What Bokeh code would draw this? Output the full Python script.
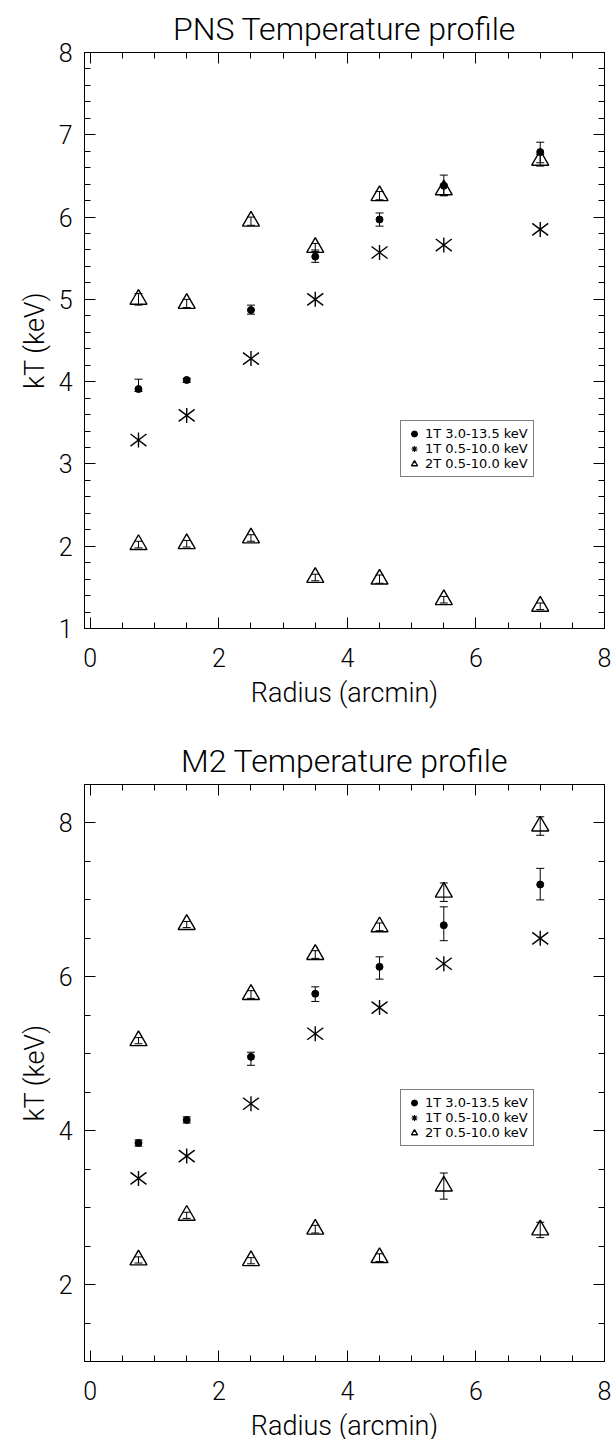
import math
from bokeh.plotting import figure
from bokeh.models import (ColumnDataSource, Range1d, LinearAxis, Whisker, TeeHead,
                          Legend, LegendItem, FixedTicker)
from bokeh.layouts import column
from bokeh.embed import file_html
from bokeh.resources import INLINE

# ---------------- data ----------------
radius = [0.75, 1.5, 2.5, 3.5, 4.5, 5.5, 7.0]

# PNS
pns_1t_hard = [3.91, 4.02, 4.87, 5.52, 5.97, 6.38, 6.79]
pns_1t_hard_lo = [3.88, 3.99, 4.82, 5.45, 5.89, 6.26, 6.66]
pns_1t_hard_hi = [4.03, 4.04, 4.93, 5.60, 6.05, 6.51, 6.91]
pns_1t_soft = [3.29, 3.59, 4.28, 5.00, 5.57, 5.66, 5.85]
pns_2t_high = [5.00, 4.95, 5.95, 5.63, 6.26, 6.33, 6.69]
pns_2t_high_err = [0.07, 0.05, 0.05, 0.05, 0.05, 0.07, 0.07]
pns_2t_low = [2.02, 2.03, 2.10, 1.62, 1.60, 1.35, 1.27]
pns_2t_low_err = [0.04, 0.04, 0.04, 0.04, 0.05, 0.04, 0.04]

# M2
m2_1t_hard = [3.84, 4.14, 4.96, 5.78, 6.13, 6.67, 7.20]
m2_1t_hard_lo = [3.80, 4.10, 4.85, 5.68, 5.97, 6.47, 7.00]
m2_1t_hard_hi = [3.88, 4.18, 5.02, 5.87, 6.26, 6.91, 7.41]
m2_1t_soft = [3.38, 3.67, 4.35, 5.26, 5.60, 6.17, 6.50]
m2_2t_high = [5.17, 6.68, 5.77, 6.29, 6.65, 7.10, 7.96]
m2_2t_high_err = [0.04, 0.04, 0.05, 0.05, 0.05, 0.12, 0.12]
m2_2t_low = [2.32, 2.90, 2.31, 2.72, 2.35, 3.28, 2.71]
m2_2t_low_err = [0.04, 0.04, 0.04, 0.05, 0.05, 0.17, 0.10]

legend_labels = ["1T 3.0-13.5 keV", "1T 0.5-10.0 keV", "2T 0.5-10.0 keV"]

x_major = [0, 2, 4, 6, 8]
x_minor_step = 0.5
pns_y_major = [1, 2, 3, 4, 5, 6, 7, 8]
pns_y_minor_step = 0.2
m2_y_major = [2, 4, 6, 8]
m2_y_minor_step = 0.5

FONT = "Roboto Light, DejaVu Sans"
LFONT = "DejaVu Sans"


def steps(a, b, s):
    n = int(round((b - a) / s))
    return [round(a + i * s, 4) for i in range(n + 1)]


def style_axis(ax, ticker, labels=True):
    ax.ticker = ticker
    ax.axis_line_color = "black"
    ax.axis_line_width = 1
    ax.major_tick_in = 11
    ax.major_tick_out = 0
    ax.minor_tick_in = 6
    ax.minor_tick_out = 0
    ax.major_tick_line_color = "black"
    ax.minor_tick_line_color = "black"
    if labels:
        ax.major_label_text_font = FONT
        ax.major_label_text_font_size = "25px"
        ax.major_label_text_color = "black"
        ax.axis_label_text_font = FONT
        ax.axis_label_text_font_size = "27px"
        ax.axis_label_text_font_style = "normal"
        ax.axis_label_text_color = "black"
    else:
        ax.major_label_text_color = None
        ax.major_label_text_font_size = "1px"
        ax.major_label_standoff = 0
        ax.axis_label = None


def panel(title, y_rng, y_major, y_minor, hard, hard_lo, hard_hi, soft,
          high, high_err, low, low_err, b_top, f_h, b_bot, leg_loc):
    p = figure(frame_width=520, frame_height=f_h,
               min_border_left=84, min_border_right=8,
               min_border_top=b_top, min_border_bottom=b_bot,
               x_range=Range1d(-0.09, 8.0), y_range=Range1d(*y_rng),
               output_backend="svg", toolbar_location=None)
    p.grid.visible = False
    p.outline_line_color = "black"
    p.background_fill_color = "white"
    p.border_fill_color = "white"

    xt = FixedTicker(ticks=x_major, minor_ticks=steps(0, 8, x_minor_step))
    yt = FixedTicker(ticks=y_major, minor_ticks=steps(y_rng[0], y_rng[1], y_minor))

    style_axis(p.xaxis[0], xt)
    style_axis(p.yaxis[0], yt)
    p.xaxis[0].axis_label = "Radius (arcmin)"
    p.yaxis[0].axis_label = "kT (keV)"
    p.xaxis[0].major_label_standoff = 19
    p.xaxis[0].axis_label_standoff = 7
    p.yaxis[0].major_label_standoff = 12
    p.yaxis[0].axis_label_standoff = 5

    top = LinearAxis()
    style_axis(top, xt, labels=False)
    p.add_layout(top, "above")
    right = LinearAxis()
    style_axis(right, yt, labels=False)
    p.add_layout(right, "right")

    p.title.text = title
    p.title.align = "center"
    p.title.text_font = FONT
    p.title.text_font_size = "32px"
    p.title.text_font_style = "normal"
    p.title.text_color = "black"
    p.title.standoff = 9

    s_hard = ColumnDataSource(dict(x=radius, y=hard, lo=hard_lo, hi=hard_hi))
    s_soft = ColumnDataSource(dict(x=radius, y=soft))
    s_high = ColumnDataSource(dict(x=radius, y=high,
                                   lo=[v - e for v, e in zip(high, high_err)],
                                   hi=[v + e for v, e in zip(high, high_err)]))
    s_low = ColumnDataSource(dict(x=radius, y=low,
                                  lo=[v - e for v, e in zip(low, low_err)],
                                  hi=[v + e for v, e in zip(low, low_err)]))

    for src in (s_hard, s_high, s_low):
        w = Whisker(base="x", lower="lo", upper="hi", source=src,
                    line_color="black", line_width=1,
                    upper_head=TeeHead(size=8, line_color="black", line_width=1),
                    lower_head=TeeHead(size=8, line_color="black", line_width=1))
        p.add_layout(w)

    r_dot = p.scatter("x", "y", source=s_hard, marker="circle", size=7,
                      fill_color="black", line_color="black")
    # six-armed asterisk: one vertical stroke and two diagonal strokes
    p.scatter("x", "y", source=s_soft, marker="dash", size=15,
              angle=math.pi / 2, line_color="black", line_width=1.4)
    for ang in (math.radians(37), math.radians(-37)):
        p.scatter("x", "y", source=s_soft, marker="dash", size=20,
                  angle=ang, line_color="black", line_width=1.4)
    # zero-size companion used only for the legend symbol
    r_ast_leg = p.scatter("x", "y", source=s_soft, marker="asterisk", size=0,
                          line_color="black", line_width=1.2)
    r_tri1 = p.scatter("x", "y", source=s_high, marker="triangle", size=17,
                       fill_color=None, line_color="black", line_width=1.4)
    p.scatter("x", "y", source=s_low, marker="triangle", size=17,
              fill_color=None, line_color="black", line_width=1.4)

    leg = Legend(items=[LegendItem(label=legend_labels[0], renderers=[r_dot]),
                        LegendItem(label=legend_labels[1], renderers=[r_ast_leg]),
                        LegendItem(label=legend_labels[2], renderers=[r_tri1])],
                 location=leg_loc)
    leg.label_text_font = LFONT
    leg.label_text_font_size = "13px"
    leg.label_text_color = "black"
    leg.glyph_width = 16
    leg.glyph_height = 15
    leg.label_height = 15
    leg.label_standoff = 3
    leg.spacing = 0
    leg.padding = 5
    leg.margin = 0
    leg.border_line_color = "black"
    leg.border_line_width = 1
    leg.background_fill_color = "white"
    leg.background_fill_alpha = 1
    p.add_layout(leg)
    return p


p1 = panel("PNS Temperature profile", (1, 8), pns_y_major, pns_y_minor_step,
           pns_1t_hard, pns_1t_hard_lo, pns_1t_hard_hi, pns_1t_soft,
           pns_2t_high, pns_2t_high_err, pns_2t_low, pns_2t_low_err,
           52, 576, 92, (316, 151))
p2 = panel("M2 Temperature profile", (1, 8.5), m2_y_major, m2_y_minor_step,
           m2_1t_hard, m2_1t_hard_lo, m2_1t_hard_hi, m2_1t_soft,
           m2_2t_high, m2_2t_high_err, m2_2t_low, m2_2t_low_err,
           64, 577, 76, (316, 215))

layout = column(p1, p2)
open("out.html", "w").write(file_html(layout, INLINE))
